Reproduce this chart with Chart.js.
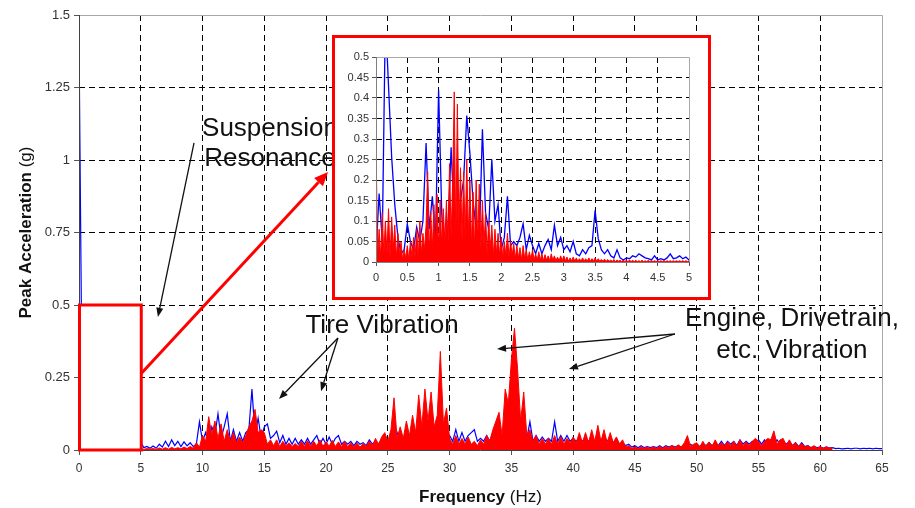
<!DOCTYPE html>
<html><head><meta charset="utf-8">
<script src="https://cdn.jsdelivr.net/npm/chart.js@4.4.1/dist/chart.umd.min.js"></script>
<style>
html,body{margin:0;padding:0;background:#fff;}
#wrap{position:relative;width:915px;height:508px;overflow:hidden;background:#fff;}
#main{position:absolute;left:0;top:0;}
#insetBox{position:absolute;left:332px;top:35px;width:373px;height:259px;border:3px solid #ff0000;background:#fff;}
#inset{display:block;}
</style></head><body>
<div id="wrap"><canvas id="main" width="915" height="508"></canvas>
<div id="insetBox"><canvas id="inset" width="373" height="259"></canvas></div></div>
<script>
// ---------- DATA ----------
// main spectrum: frequency grid 0..65 Hz, step 0.25 Hz
const MAIN_STEP = 0.25;
const xTicksMain = [0,5,10,15,20,25,30,35,40,45,50,55,60,65];
const yTicksMain = [0,0.25,0.5,0.75,1,1.25,1.5];
const blueMain = [
1.42,0.20,0.25,0.10,  0.42,0.28,0.36,0.32,  0.16,0.09,0.06,0.05,  0.09,0.05,0.13,0.05,  0.02,0.02,0.02,0.02,
0.028,0.008,0.012,0.006, 0.014,0.006,0.02,0.01, 0.03,0.012,0.035,0.015, 0.03,0.012,0.028,0.014, 0.025,0.012,0.02,0.097,
0.03,0.06,0.02,0.08,  0.05,0.125,0.04,0.08,  0.125,0.03,0.07,0.03,  0.06,0.03,0.06,0.07,  0.21,0.05,0.11,0.04,
0.08,0.09,0.04,0.05,  0.065,0.025,0.05,0.02,  0.04,0.02,0.04,0.02,  0.035,0.02,0.04,0.02,  0.035,0.05,0.02,0.04,
0.02,0.045,0.02,0.04, 0.05,0.02,0.03,0.02,  0.03,0.015,0.03,0.02,  0.025,0.015,0.035,0.02, 0.03,0.02,0.035,0.04,
0.02,0.05,0.03,0.06,  0.03,0.04,0.06,0.03,  0.05,0.03,0.05,0.03,  0.05,0.03,0.07,0.03,  0.05,0.03,0.05,0.03,
0.05,0.03,0.07,0.03,  0.06,0.03,0.05,0.06,  0.07,0.03,0.04,0.03,  0.05,0.03,0.06,0.07,  0.08,0.04,0.06,0.07,
0.10,0.05,0.08,0.04,  0.09,0.04,0.097,0.03,  0.05,0.03,0.045,0.03,  0.04,0.03,0.097,0.03, 0.05,0.03,0.05,0.03,
0.04,0.03,0.04,0.03, 0.04,0.03,0.04,0.03,  0.045,0.03,0.05,0.03,  0.04,0.025,0.04,0.02,  0.025,0.015,0.02,0.01,
0.015,0.008,0.015,0.008, 0.012,0.008,0.012,0.008, 0.015,0.008,0.015,0.01, 0.015,0.01,0.015,0.01, 0.02,0.01,0.02,0.012,
0.02,0.012,0.02,0.015, 0.025,0.015,0.025,0.015, 0.03,0.015,0.03,0.02, 0.03,0.015,0.035,0.02, 0.03,0.02,0.03,0.02,
0.035,0.02,0.035,0.02, 0.035,0.02,0.035,0.02, 0.03,0.02,0.03,0.015, 0.025,0.012,0.025,0.012, 0.015,0.008,0.012,0.008,
0.01,0.007,0.01,0.007, 0.008,0.005,0.006,0.004, 0.005,0.006,0.004,0.006, 0.006,0.004,0.006,0.005, 0.006,0.004,0.006,0.005,
0.005];
const redMain = [
0.30,0.12,0.13,0.08,  0.15,0.41,0.23,0.25,  0.06,0.07,0.05,0.03,  0.02,0.015,0.01,0.012,  0.008,0.006,0.005,0.006,
0.005,0.002,0.005,0.003, 0.005,0.002,0.007,0.003, 0.008,0.003,0.009,0.004, 0.008,0.004,0.01,0.005, 0.012,0.006,0.025,0.01,
0.05,0.03,0.115,0.05, 0.10,0.04,0.09,0.03,  0.07,0.03,0.06,0.025,  0.045,0.025,0.05,0.08,  0.10,0.14,0.06,0.07,
0.06,0.02,0.035,0.015, 0.035,0.012,0.03,0.014, 0.025,0.012,0.022,0.012, 0.03,0.012,0.032,0.013, 0.03,0.014,0.035,0.013,
0.028,0.013,0.033,0.012, 0.028,0.012,0.03,0.011, 0.025,0.01,0.024,0.01, 0.022,0.012,0.03,0.015, 0.04,0.02,0.045,0.06,
0.03,0.07,0.18,0.04,  0.08,0.04,0.10,0.05,  0.12,0.06,0.19,0.08,  0.21,0.10,0.20,0.08,  0.12,0.34,0.09,0.145,
0.04,0.02,0.05,0.02, 0.04,0.02,0.045,0.02, 0.03,0.015,0.035,0.02, 0.05,0.03,0.07,0.10,  0.13,0.05,0.21,0.16,
0.31,0.42,0.28,0.10,  0.20,0.05,0.07,0.03,  0.05,0.02,0.04,0.02,  0.04,0.02,0.05,0.02,  0.045,0.02,0.04,0.025,
0.045,0.025,0.06,0.025, 0.06,0.025,0.07,0.03, 0.085,0.03,0.07,0.025, 0.06,0.025,0.045,0.02, 0.035,0.01,0.015,0.006,
0.01,0.005,0.01,0.006, 0.01,0.005,0.011,0.005, 0.012,0.006,0.012,0.008, 0.015,0.008,0.018,0.01, 0.025,0.05,0.012,0.02,
0.025,0.01,0.03,0.012, 0.028,0.012,0.035,0.014, 0.025,0.014,0.028,0.015, 0.03,0.012,0.035,0.015, 0.028,0.015,0.03,0.04,
0.03,0.015,0.03,0.04, 0.035,0.066,0.02,0.035, 0.04,0.015,0.035,0.015, 0.025,0.012,0.022,0.01, 0.015,0.008,0.015,0.006,
0.012,0.005,0.012,0.005, 0.008];

// inset spectrum (0..5 Hz)
const INSET_BLUE_STEP = 0.05;
const INSET_RED_STEP = 0.025;
const xTicksInset = [0,0.5,1,1.5,2,2.5,3,3.5,4,4.5,5];
const yTicksInset = [0,0.05,0.1,0.15,0.2,0.25,0.3,0.35,0.4,0.45,0.5];
const blueInset = [
0.02,0.167,0.05,0.6,0.43,0.256,0.14,0.06,0.02,0.03,
0.093,0.05,0.03,0.085,0.05,0.10,0.29,0.08,0.16,0.05,
0.42,0.12,0.0,0.08,0.28,0.10,0.0,0.15,0.20,0.357,
0.265,0.15,0.08,0.05,0.324,0.12,0.08,0.25,0.10,0.14,
0.03,0.06,0.16,0.04,0.05,0.04,0.06,0.093,0.03,0.065,
0.04,0.02,0.045,0.02,0.04,0.055,0.03,0.09,0.04,0.06,
0.03,0.04,0.025,0.05,0.02,0.015,0.03,0.02,0.035,0.04,
0.126,0.057,0.03,0.02,0.03,0.015,0.01,0.03,0.01,0.005,
0.01,0.008,0.015,0.012,0.02,0.015,0.01,0.008,0.005,0.015,
0.005,0.008,0.005,0.01,0.02,0.008,0.01,0.015,0.008,0.012,0.005];
const redInset = [
0.305,0.01,0.08,0.01,0.12,0.02,0.10,0.02,0.13,0.01,0.11,0.03,0.09,0.01,0.07,0.02,0.05,0.005,0.03,0.01,
0.04,0.005,0.05,0.01,0.06,0.01,0.08,0.01,0.10,0.02,0.07,0.03,0.09,0.22,0.02,0.12,0.03,0.14,0.04,0.165,
0.03,0.15,0.04,0.13,0.05,0.15,0.04,0.24,0.06,0.20,0.415,0.05,0.385,0.08,0.23,0.05,0.22,0.06,0.25,0.06,
0.20,0.04,0.17,0.03,0.20,0.05,0.19,0.03,0.15,0.04,0.12,0.02,0.10,0.03,0.09,0.015,0.08,0.02,0.07,0.015,
0.06,0.01,0.05,0.015,0.07,0.01,0.05,0.015,0.045,0.008,0.04,0.01,0.035,0.005,0.04,0.008,0.03,0.005,0.025,0.006,
0.03,0.005,0.02,0.004,0.025,0.005,0.02,0.003,0.018,0.004,0.015,0.003,0.02,0.004,0.015,0.003,0.012,0.003,0.015,0.003,
0.015,0.003,0.012,0.002,0.01,0.003,0.012,0.002,0.01,0.002,0.008,0.002,0.01,0.002,0.008,0.002,0.01,0.002,0.008,0.002,
0.01,0.002,0.008,0.002,0.006,0.002,0.007,0.001,0.006,0.002,0.005,0.001,0.006,0.001,0.005,0.002,0.004,0.001,0.005,0.001,
0.004,0.001,0.005,0.001,0.004,0.001,0.004,0.001,0.003,0.001,0.004,0.001,0.003,0.001,0.004,0.001,0.003,0.001,0.003,0.001,
0.003,0.001,0.003,0.001,0.003,0.001,0.003,0.001,0.003,0.001,0.003,0.001,0.003,0.001,0.003,0.001,0.003,0.001,0.003,0.001,0.003];

// annotations (data units of main chart)
const zoomBox = [0, 5, 0, 0.5];
const redArrow = [[5, 0.262], [20.16, 0.959]];
const blackArrows = [
  [[9.31,1.059],[6.39,0.459]],
  [[20.96,0.386],[16.19,0.176]],
  [[20.96,0.386],[19.59,0.203]],
  [[48.24,0.40],[33.84,0.348]],
  [[48.24,0.40],[39.66,0.279]]
];
const noteLabels = [
  {lines:['Suspension','Resonance'], x:15.46, y:[1.083,0.979]},
  {lines:['Tire Vibration'], x:24.53, y:[0.403]},
  {lines:['Engine, Drivetrain,','etc. Vibration'], x:57.71, y:[0.428,0.317]}
];

// ---------- HELPERS ----------
const FONT = 'Arial, "Liberation Sans", sans-serif';
Chart.defaults.font.family = FONT;
const fmt = v => String(Math.round(v*100)/100);
const toXY = (arr, step) => arr.map((v,i)=>({x:i*step, y:v}));

function drawArrow(ctx,x1,y1,x2,y2,color,lw,hl,hw){
  const a=Math.atan2(y2-y1,x2-x1);
  const bx=x2-hl*Math.cos(a), by=y2-hl*Math.sin(a);
  ctx.strokeStyle=color; ctx.lineWidth=lw; ctx.lineCap='butt';
  ctx.beginPath(); ctx.moveTo(x1,y1); ctx.lineTo(bx,by); ctx.stroke();
  ctx.fillStyle=color; ctx.beginPath(); ctx.moveTo(x2,y2);
  ctx.lineTo(bx+hw/2*Math.sin(a), by-hw/2*Math.cos(a));
  ctx.lineTo(bx-hw/2*Math.sin(a), by+hw/2*Math.cos(a));
  ctx.closePath(); ctx.fill();
}
function mixed(ctx, parts, cx, y){
  let w=0; parts.forEach(p=>{ctx.font=p.f; p.w=ctx.measureText(p.t).width; w+=p.w;});
  let x=cx-w/2; ctx.textAlign='left'; ctx.textBaseline='alphabetic';
  parts.forEach(p=>{ctx.font=p.f; ctx.fillText(p.t,x,y); x+=p.w;});
}

const mainDecor = {
  id:'mainDecor',
  afterDatasetsDraw(chart){
    const {ctx, chartArea:a, scales:{x,y}} = chart;
    const X=v=>x.getPixelForValue(v), Y=v=>y.getPixelForValue(v);
    ctx.save();
    ctx.lineWidth=1; ctx.setLineDash([]);
    ctx.strokeStyle='#a8a8a8';
    ctx.beginPath(); ctx.moveTo(a.left, a.top+0.5); ctx.lineTo(a.right+0.5, a.top+0.5); ctx.lineTo(a.right+0.5, a.bottom); ctx.stroke();
    ctx.strokeStyle='#404040';
    ctx.beginPath(); ctx.moveTo(a.left+0.5, a.top); ctx.lineTo(a.left+0.5, a.bottom+0.5); ctx.lineTo(a.right, a.bottom+0.5); ctx.stroke();
    const bx0=X(zoomBox[0]), bx1=X(zoomBox[1]), by0=Y(zoomBox[2]), by1=Y(zoomBox[3]);
    ctx.fillStyle='#fff'; ctx.fillRect(bx0, by1, bx1-bx0, by0-by1);
    ctx.strokeStyle='#ff0000'; ctx.lineWidth=3;
    ctx.strokeRect(bx0+0.5, by1, bx1-bx0, by0-by1);
    drawArrow(ctx, X(redArrow[0][0]), Y(redArrow[0][1]), X(redArrow[1][0]), Y(redArrow[1][1]), '#ff0000', 3, 14, 12);
    blackArrows.forEach(ar=>drawArrow(ctx, X(ar[0][0]), Y(ar[0][1]), X(ar[1][0]), Y(ar[1][1]), '#111', 1.3, 9, 7));
    ctx.fillStyle='#111'; ctx.font='26px '+FONT; ctx.textAlign='center'; ctx.textBaseline='alphabetic';
    noteLabels.forEach(n=>n.lines.forEach((t,i)=>ctx.fillText(t, X(n.x), Y(n.y[i]))));
    ctx.fillStyle='#111';
    mixed(ctx, [{t:'Frequency ', f:'bold 17px '+FONT},{t:'(Hz)', f:'17px '+FONT}], (a.left+a.right)/2, 502);
    ctx.translate(31, (a.top+a.bottom)/2); ctx.rotate(-Math.PI/2);
    mixed(ctx, [{t:'Peak Acceleration ', f:'bold 17px '+FONT},{t:'(g)', f:'17px '+FONT}], 0, 0);
    ctx.restore();
  }
};

const insetFrame = {
  id:'insetFrame',
  afterDatasetsDraw(chart){
    const {ctx, chartArea:a} = chart;
    ctx.save(); ctx.lineWidth=1; ctx.setLineDash([]);
    ctx.strokeStyle='#a8a8a8';
    ctx.beginPath(); ctx.moveTo(a.left, a.top+0.5); ctx.lineTo(a.right+0.5, a.top+0.5); ctx.lineTo(a.right+0.5, a.bottom); ctx.stroke();
    ctx.strokeStyle='#808080';
    ctx.beginPath(); ctx.moveTo(a.left+0.5, a.top); ctx.lineTo(a.left+0.5, a.bottom+0.5); ctx.lineTo(a.right, a.bottom+0.5); ctx.stroke();
    ctx.restore();
  }
};

function gridFor(minV, maxV){
  return {
    color: c => (c.tick && (Math.abs(c.tick.value-minV)<1e-9 || Math.abs(c.tick.value-maxV)<1e-9)) ? 'rgba(0,0,0,0)' : '#000',
    lineWidth:1, tickLength:5, tickColor:'#555', drawTicks:true
  };
}

// ---------- MAIN CHART ----------
new Chart(document.getElementById('main'), {
  type:'line',
  data:{datasets:[
    {label:'Red', data:toXY(redMain, MAIN_STEP), borderColor:'#ff0000', backgroundColor:'#ff0000', borderWidth:1, fill:'origin', pointRadius:0, tension:0},
    {label:'Blue', data:toXY(blueMain, MAIN_STEP), borderColor:'#0000ff', backgroundColor:'#0000ff', borderWidth:1.2, fill:false, pointRadius:0, tension:0}
  ]},
  options:{
    responsive:false, animation:false, devicePixelRatio:1,
    layout:{padding:{top:15, right:33, left:0, bottom:0}},
    plugins:{legend:{display:false}, tooltip:{enabled:false}},
    scales:{
      x:{type:'linear', min:0, max:65,
         afterBuildTicks: s => { s.ticks = xTicksMain.map(v=>({value:v})); },
         ticks:{font:{size:12}, color:'#333', padding:6, maxRotation:0, autoSkip:false, callback:v=>fmt(v)},
         grid:gridFor(0,65), border:{display:false, dash:[6,4]},
         afterFit: s => { s.height = 58; }},
      y:{type:'linear', min:0, max:1.5,
         afterBuildTicks: s => { s.ticks = yTicksMain.map(v=>({value:v})); },
         ticks:{font:{size:13}, color:'#333', padding:4, autoSkip:false, callback:v=>fmt(v)},
         grid:gridFor(0,1.5), border:{display:false, dash:[6,4]},
         afterFit: s => { s.width = 79; }}
    }
  },
  plugins:[mainDecor]
});

// ---------- INSET CHART ----------
new Chart(document.getElementById('inset'), {
  type:'line',
  data:{datasets:[
    {label:'Red', data:toXY(redInset, INSET_RED_STEP), borderColor:'#ff0000', backgroundColor:'#ff0000', borderWidth:1, fill:'origin', pointRadius:0, tension:0},
    {label:'Blue', data:toXY(blueInset, INSET_BLUE_STEP), borderColor:'#0000ff', borderWidth:1.3, fill:false, pointRadius:0, tension:0}
  ]},
  options:{
    responsive:false, animation:false, devicePixelRatio:1,
    layout:{padding:{top:19, right:19, left:0, bottom:0}},
    plugins:{legend:{display:false}, tooltip:{enabled:false}},
    scales:{
      x:{type:'linear', min:0, max:5,
         afterBuildTicks: s => { s.ticks = xTicksInset.map(v=>({value:v})); },
         ticks:{font:{size:11}, color:'#333', padding:5, maxRotation:0, autoSkip:false, callback:v=>fmt(v)},
         grid:Object.assign(gridFor(0,5),{tickLength:4}), border:{display:false, dash:[6,4]},
         afterFit: s => { s.height = 35; }},
      y:{type:'linear', min:0, max:0.5,
         afterBuildTicks: s => { s.ticks = yTicksInset.map(v=>({value:v})); },
         ticks:{font:{size:11}, color:'#333', padding:3, autoSkip:false, callback:v=>fmt(v)},
         grid:Object.assign(gridFor(0,0.5),{tickLength:4}), border:{display:false, dash:[6,4]},
         afterFit: s => { s.width = 41; }}
    }
  },
  plugins:[insetFrame]
});
</script>
</body></html>
